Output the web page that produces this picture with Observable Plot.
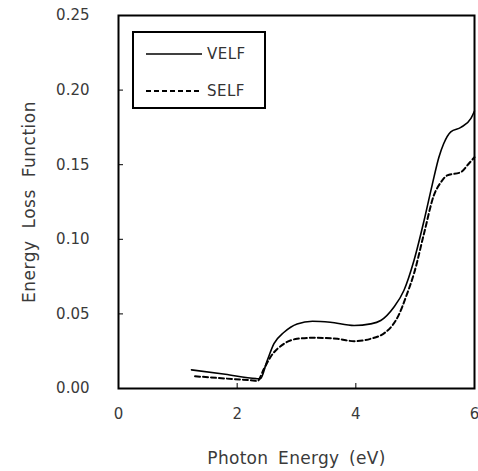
<!DOCTYPE html>
<html>
<head>
<meta charset="utf-8">
<script src="https://cdn.jsdelivr.net/npm/d3@7"></script>
<script src="https://cdn.jsdelivr.net/npm/@observablehq/plot@0.6"></script>
<style>
  body { margin: 0; background: #fff; }
  #wrap { position: relative; width: 478px; height: 471px; }
  #legend { position: absolute; left: 132px; top: 31px; width: 130px; height: 74px;
    border: 2px solid #000; background: #fff; font-family: "DejaVu Sans", sans-serif; font-size: 15px; color: #333; }
  .row { position: absolute; left: 12px; display: flex; align-items: center; }
  .row span { margin-left: 5px; letter-spacing: 0.5px; }
  #wrap svg [aria-label="x-axis label"] text { font-size: 17px !important; letter-spacing: 0.3px; word-spacing: 4px; }
  #wrap svg [aria-label="y-axis label"] text { font-size: 17px !important; letter-spacing: 0.5px; word-spacing: 6px; }
</style>
</head>
<body>
<div id="wrap"></div>
<script>
const seriesNames = ["VELF", "SELF"];
const velfX = [1.23, 1.80, 2.32, 2.39, 2.50, 2.62, 2.79, 3.01, 3.27, 3.57, 3.97, 4.25, 4.42, 4.64, 4.81, 4.98, 5.15, 5.29, 5.40, 5.48, 5.60, 5.77, 5.94, 6.00];
const velfY = [0.0125, 0.0095, 0.0066, 0.0065, 0.018, 0.030, 0.0377, 0.0433, 0.0451, 0.0444, 0.0422, 0.0433, 0.0456, 0.0545, 0.0657, 0.0858, 0.1126, 0.137, 0.155, 0.164, 0.172, 0.175, 0.181, 0.186];
const selfX = [1.29, 1.80, 2.30, 2.34, 2.45, 2.56, 2.79, 3.01, 3.29, 3.69, 3.97, 4.25, 4.50, 4.62, 4.72, 4.85, 4.98, 5.15, 5.32, 5.43, 5.54, 5.77, 5.91, 6.00];
const selfY = [0.0082, 0.0067, 0.0052, 0.0050, 0.013, 0.021, 0.030, 0.0333, 0.0340, 0.0333, 0.0317, 0.0333, 0.0377, 0.0425, 0.049, 0.062, 0.077, 0.104, 0.130, 0.138, 0.1428, 0.145, 0.151, 0.155];
const xTicks = [0, 2, 4, 6];
const yTicks = [0, 0.05, 0.10, 0.15, 0.20, 0.25];
const xLabel = "Photon Energy (eV)";
const yLabel = "Energy Loss Function";

const velf = velfX.map((x, i) => ({x, y: velfY[i]}));
const selfD = selfX.map((x, i) => ({x, y: selfY[i]}));

const chart = Plot.plot({
  width: 478,
  height: 471,
  marginLeft: 118,
  marginRight: 4,
  marginTop: 15,
  marginBottom: 83,
  style: {fontFamily: "DejaVu Sans, sans-serif", fontSize: "15px", color: "#3a3a3a", background: "#fff"},
  x: {domain: [0, 6]},
  y: {domain: [0, 0.25]},
  marks: [
    Plot.line(velf, {x: "x", y: "y", stroke: "#000", strokeWidth: 1.6, curve: "monotone-x"}),
    Plot.line(selfD, {x: "x", y: "y", stroke: "#000", strokeWidth: 2, strokeDasharray: "5,3", curve: "monotone-x"}),
    Plot.axisX({ticks: xTicks, tickSize: -5, tickPadding: 25, tickFormat: d => String(d), label: xLabel, labelAnchor: "center", labelArrow: "none", labelOffset: 75, stroke: "#000"}),
    Plot.axisY({ticks: yTicks, tickSize: -5, tickPadding: 34, tickFormat: d => d.toFixed(2), label: yLabel, labelAnchor: "center", labelArrow: "none", labelOffset: 96, stroke: "#000"}),
    Plot.frame({stroke: "#000", strokeWidth: 2})
  ]
});
const wrap = document.getElementById("wrap");
wrap.appendChild(chart);

const legend = document.createElement("div");
legend.id = "legend";
const dashes = ["", "5,3"];
seriesNames.forEach((name, i) => {
  const row = document.createElement("div");
  row.className = "row";
  row.style.top = (i === 0 ? 12 : 49) + "px";
  row.innerHTML = `<svg width="56" height="10"><line x1="0" x2="56" y1="5" y2="5" stroke="#000" stroke-width="${i===0?1.6:2}" ${dashes[i] ? `stroke-dasharray="${dashes[i]}"` : ""}/></svg><span>${name}</span>`;
  legend.appendChild(row);
});
wrap.appendChild(legend);
</script>
</body>
</html>
